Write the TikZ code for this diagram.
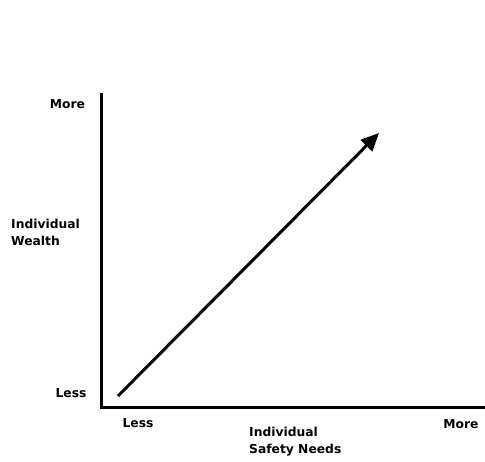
\documentclass[tikz,border=0pt]{standalone}
\usepackage{fontspec}
\setmainfont{DejaVu Sans}
\usetikzlibrary{arrows.meta}
\begin{document}
\begin{tikzpicture}[x=1pt,y=-1pt,
  lbl/.style={font=\bfseries\fontsize{12.3}{17}\selectfont, inner sep=0pt},
  axis/.style={line width=3pt},
  trend/.style={line width=3pt, -{Triangle[length=18pt,width=16pt]}}]
\useasboundingbox[fill=white] (0,0) rectangle (485,462);
\coordinate (top) at (101,95);
\coordinate (origin) at (101,408);
\coordinate (right) at (484,408);
\draw[axis, line cap=rect] (top) -- (origin) -- (right);
\coordinate (start) at (118,396);
\coordinate (end) at (379,133);
\draw[trend] (start) -- (end);
\node[lbl] (ymore) at (67.5,104) {More};
\node[lbl] (yless) at (71,393) {Less};
\node[lbl, anchor=west, align=left] (ylab) at (11,232) {Individual\\Wealth};
\node[lbl] (xless) at (138,423) {Less};
\node[lbl, anchor=west, align=left] (xlab) at (249,442) {Individual\\Safety Needs};
\node[lbl] (xmore) at (461,424) {More};
\end{tikzpicture}
\end{document}
